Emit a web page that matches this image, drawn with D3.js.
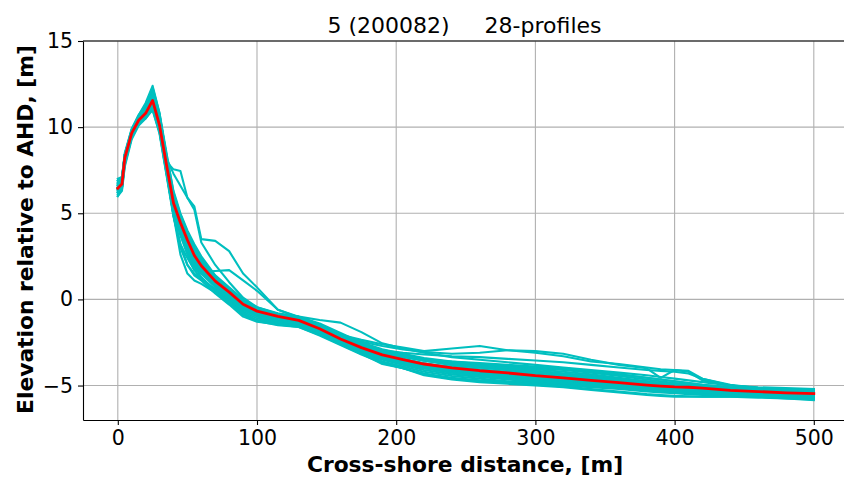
<!DOCTYPE html>
<html><head><meta charset="utf-8">
<script src="https://cdn.jsdelivr.net/npm/d3@7"></script>
<style>body{margin:0;background:#fff;overflow:hidden} text{font-family:"DejaVu Sans",sans-serif}</style>
</head><body><svg id="c" width="844" height="480"></svg>
<script>
const distances = [0,3,5,10,15,20,25,30,35,40,45,50,55,60,70,80,90,100,115,130,145,160,175,190,205,220,240,260,280,300,320,340,360,380,390,400,410,420,440,460,480,500];

const profile01 = [6.3,6.6,8.0,9.5,10.3,10.9,11.8,10.3,7.6,5.2,4.0,3.0,2.2,1.7,0.9,0.3,-0.4,-0.8,-1.05,-1.25,-1.75,-2.4,-2.95,-3.4,-3.7,-3.95,-4.2,-4.35,-4.5,-4.65,-4.75,-4.9,-5.0,-5.15,-5.2,-5.25,-5.3,-5.35,-5.45,-5.5,-5.55,-5.6];
const profile02 = [6.6,6.9,8.3,9.7,10.5,11.0,12.1,10.6,8.0,5.5,4.2,3.2,2.4,1.8,1.0,0.35,-0.35,-0.75,-1.0,-1.2,-1.6,-2.2,-2.75,-3.2,-3.5,-3.8,-4.05,-4.25,-4.4,-4.55,-4.7,-4.85,-5.0,-5.1,-5.15,-5.2,-5.25,-5.3,-5.4,-5.45,-5.5,-5.55];
const profile03 = [6.0,6.4,7.8,9.4,10.2,10.6,11.3,9.9,7.4,4.9,3.0,2.0,1.5,1.2,0.6,0.0,-0.7,-1.1,-1.3,-1.45,-1.9,-2.5,-3.05,-3.5,-3.8,-4.1,-4.35,-4.5,-4.65,-4.8,-4.9,-5.0,-5.1,-5.25,-5.3,-5.35,-5.4,-5.45,-5.5,-5.55,-5.6,-5.7];
const profile04 = [6.8,7.0,8.4,9.8,10.6,11.2,12.3,10.8,8.3,6.0,4.7,3.8,2.9,2.2,1.2,0.5,-0.2,-0.6,-0.9,-1.15,-1.55,-2.1,-2.6,-3.0,-3.3,-3.55,-3.8,-3.95,-4.1,-4.25,-4.4,-4.55,-4.7,-4.85,-4.95,-5.0,-5.05,-5.1,-5.25,-5.35,-5.4,-5.45];
const profile05 = [6.5,6.8,8.2,9.6,10.4,10.7,11.4,10.0,7.7,5.4,4.1,3.1,2.1,1.5,0.8,0.2,-0.5,-0.9,-1.1,-1.3,-1.8,-2.45,-2.95,-3.35,-3.65,-3.9,-4.15,-4.3,-4.45,-4.6,-4.7,-4.8,-4.95,-5.1,-5.15,-5.2,-5.25,-5.3,-5.4,-5.45,-5.5,-5.55];
const profile06 = [6.2,6.5,8.0,9.6,10.3,10.8,11.6,10.2,7.9,5.8,4.6,3.6,2.7,2.1,1.2,0.5,-0.2,-0.6,-0.95,-1.2,-1.65,-2.25,-2.8,-3.25,-3.55,-3.85,-4.1,-4.3,-4.45,-4.6,-4.75,-4.9,-5.05,-5.2,-5.25,-5.3,-5.35,-5.4,-5.5,-5.55,-5.6,-5.65];
const profile07 = [7.0,7.1,8.5,9.9,10.7,11.3,11.9,10.5,8.1,5.6,4.3,3.3,2.5,1.9,1.1,0.45,-0.3,-0.7,-1.0,-1.2,-1.6,-2.2,-2.7,-3.1,-3.35,-3.55,-3.75,-3.9,-4.0,-4.15,-4.3,-4.45,-4.6,-4.75,-4.85,-4.9,-4.95,-5.0,-5.15,-5.25,-5.3,-5.35];
const profile08 = [6.4,6.7,8.1,9.5,10.3,10.7,11.2,9.7,7.3,5.0,3.8,2.8,1.9,1.3,0.5,-0.1,-0.8,-1.2,-1.35,-1.5,-1.95,-2.55,-3.1,-3.6,-3.9,-4.2,-4.45,-4.6,-4.75,-4.85,-4.95,-5.05,-5.15,-5.3,-5.35,-5.4,-5.45,-5.5,-5.55,-5.6,-5.7,-5.75];
const profile09 = [6.7,6.9,8.4,9.7,10.5,11.1,12.0,10.4,8.0,6.1,4.9,3.9,3.0,2.3,1.3,0.6,-0.1,-0.5,-0.85,-1.1,-1.5,-2.05,-2.55,-2.95,-3.2,-3.45,-3.65,-3.8,-3.9,-4.0,-4.1,-4.25,-4.45,-4.65,-4.75,-4.85,-4.95,-5.05,-5.15,-5.25,-5.3,-5.35];
const profile10 = [6.1,6.5,7.9,9.4,10.2,10.5,11.1,9.8,7.5,5.3,3.9,2.7,2.0,1.6,0.8,0.15,-0.55,-0.95,-1.2,-1.4,-1.85,-2.45,-3.0,-3.45,-3.75,-4.0,-4.25,-4.4,-4.55,-4.7,-4.8,-4.95,-5.1,-5.2,-5.25,-5.3,-5.35,-5.4,-5.5,-5.55,-5.6,-5.65];
const profile11 = [6.9,7.1,8.3,9.8,10.6,11.0,11.7,10.6,8.4,6.3,5.0,4.0,3.2,2.5,1.4,0.7,0.0,-0.45,-0.8,-1.0,-1.4,-1.95,-2.5,-2.95,-3.25,-3.55,-3.8,-3.95,-4.1,-4.25,-4.4,-4.55,-4.7,-4.85,-4.9,-4.95,-5.0,-5.05,-5.2,-5.3,-5.35,-5.4];
const profile12 = [6.3,6.6,8.1,9.6,10.4,10.9,11.5,10.1,7.6,5.1,3.7,2.6,1.7,1.2,0.5,-0.15,-0.9,-1.25,-1.4,-1.55,-2.0,-2.6,-3.15,-3.65,-4.0,-4.3,-4.55,-4.7,-4.8,-4.9,-5.0,-5.1,-5.2,-5.35,-5.4,-5.45,-5.5,-5.55,-5.6,-5.65,-5.7,-5.8];
const profile13 = [6.6,6.8,8.2,9.7,10.5,11.2,12.2,10.7,8.2,5.9,4.6,3.7,2.8,2.1,1.15,0.45,-0.25,-0.65,-0.95,-1.15,-1.55,-2.15,-2.7,-3.15,-3.45,-3.7,-3.95,-4.1,-4.25,-4.4,-4.5,-4.65,-4.8,-4.95,-5.0,-5.05,-5.1,-5.15,-5.3,-5.35,-5.45,-5.5];
const profile14 = [6.5,6.7,8.1,9.6,10.4,10.6,11.0,9.6,7.2,4.8,3.2,2.0,1.4,1.1,0.35,-0.3,-1.0,-1.3,-1.45,-1.6,-2.1,-2.65,-3.2,-3.7,-4.0,-4.35,-4.6,-4.75,-4.85,-4.95,-5.05,-5.2,-5.35,-5.5,-5.55,-5.6,-5.62,-5.65,-5.65,-5.65,-5.75,-5.8];
const profile15 = [6.4,6.6,8.2,9.7,10.4,10.8,11.7,10.3,7.9,5.7,4.5,3.5,2.6,2.0,1.1,0.4,-0.3,-0.7,-1.0,-1.25,-1.7,-2.35,-2.85,-3.3,-3.6,-3.85,-4.1,-4.25,-4.4,-4.55,-4.65,-4.8,-4.9,-5.05,-5.1,-5.15,-5.2,-5.25,-5.35,-5.4,-5.5,-5.55];
const profile16 = [6.7,7.0,8.4,9.8,10.6,11.1,11.9,10.5,8.1,5.9,4.7,3.7,2.9,2.3,1.3,0.6,-0.1,-0.55,-0.9,-1.1,-1.5,-2.1,-2.6,-3.05,-3.3,-3.5,-3.7,-3.85,-3.95,-4.05,-4.2,-4.35,-4.55,-4.75,-4.85,-4.95,-5.0,-5.05,-5.2,-5.3,-5.35,-5.4];
const profile17 = [6.5,6.8,8.2,9.7,10.5,11.1,11.8,10.4,8.0,7.55,7.45,5.9,5.4,3.5,3.4,2.8,1.5,0.7,-0.6,-1.05,-1.5,-2.05,-2.55,-2.95,-3.2,-3.45,-3.7,-3.85,-4.0,-4.15,-4.3,-4.45,-4.6,-4.8,-4.85,-4.9,-4.95,-5.0,-5.15,-5.25,-5.3,-5.35];
const profile18 = [6.2,6.5,8.0,9.5,10.2,10.6,11.3,9.9,7.5,4.9,3.2,2.4,1.7,1.6,1.65,1.7,1.1,0.5,-0.6,-1.0,-1.45,-2.0,-2.5,-2.9,-3.15,-3.4,-3.6,-3.75,-3.85,-3.95,-4.05,-4.2,-4.35,-4.55,-4.65,-4.75,-4.85,-4.95,-5.1,-5.2,-5.25,-5.3];
const profile19 = [6.6,6.9,8.3,9.8,10.6,11.2,12.0,10.6,8.2,7.3,6.6,5.9,5.2,3.3,2.0,1.0,0.1,-0.45,-0.85,-1.1,-1.5,-2.05,-2.6,-3.0,-3.3,-3.55,-3.75,-3.9,-4.05,-4.2,-4.35,-4.5,-4.65,-4.8,-4.85,-4.9,-4.95,-5.0,-5.15,-5.25,-5.3,-5.35];
const profile20 = [6.4,6.7,8.2,9.6,10.4,10.9,11.6,10.2,7.8,5.5,4.3,3.3,2.4,1.85,1.0,0.4,-0.3,-0.7,-0.95,-1.15,-1.55,-2.05,-2.35,-2.6,-2.8,-3.0,-2.85,-2.7,-2.95,-3.1,-3.3,-3.6,-3.75,-3.95,-4.05,-4.1,-4.15,-4.6,-5.0,-5.15,-5.2,-5.2];
const profile21 = [6.8,7.0,8.3,9.7,10.6,11.3,12.2,10.7,8.3,5.9,4.6,3.6,2.7,2.1,1.2,0.5,-0.2,-0.6,-0.9,-1.1,-1.5,-2.1,-2.45,-2.7,-2.9,-3.05,-3.15,-3.1,-2.95,-3.0,-3.15,-3.5,-3.8,-4.0,-4.55,-4.1,-4.2,-4.7,-5.0,-5.1,-5.15,-5.2];
const profile22 = [6.3,6.6,8.1,9.6,10.3,10.7,11.4,10.0,7.7,5.5,4.3,3.4,2.5,1.9,1.05,0.4,-0.3,-0.7,-1.0,-1.2,-1.6,-2.15,-2.6,-2.95,-3.1,-3.2,-3.3,-3.35,-3.45,-3.55,-3.65,-3.8,-3.95,-4.1,-4.15,-4.2,-4.3,-4.6,-4.95,-5.15,-5.25,-5.3];
const profile23 = [6.5,6.8,8.3,9.7,10.5,11.0,11.7,10.3,7.9,5.7,4.5,3.5,2.6,2.0,1.1,0.45,-0.25,-0.65,-0.9,-1.0,-1.2,-1.35,-1.9,-2.55,-2.85,-3.1,-3.35,-3.5,-3.65,-3.8,-3.95,-4.1,-4.25,-4.4,-4.5,-4.6,-4.7,-4.8,-5.0,-5.15,-5.2,-5.25];
const profile24 = [6.0,6.3,7.7,9.3,10.1,10.5,11.0,9.7,7.3,4.9,2.6,1.5,1.1,0.9,0.4,-0.2,-0.8,-1.25,-1.5,-1.6,-2.05,-2.6,-3.15,-3.75,-4.0,-4.4,-4.65,-4.8,-4.9,-5.0,-5.1,-5.25,-5.4,-5.55,-5.6,-5.65,-5.65,-5.65,-5.65,-5.7,-5.75,-5.85];
const profile25 = [6.7,6.9,8.4,9.8,10.6,11.0,11.6,10.4,8.0,5.8,4.4,3.3,2.3,1.7,0.85,0.25,-0.45,-0.85,-1.1,-1.3,-1.8,-2.4,-2.9,-3.35,-3.6,-3.85,-4.05,-4.2,-4.35,-4.5,-4.6,-4.75,-4.9,-5.05,-5.1,-5.15,-5.2,-5.25,-5.35,-5.4,-5.5,-5.55];
const profile26 = [6.4,6.7,8.1,9.6,10.4,10.9,11.9,10.2,7.7,5.4,4.2,3.2,2.3,1.8,1.0,0.35,-0.4,-0.8,-1.05,-1.3,-1.75,-2.35,-2.9,-3.3,-3.55,-3.75,-3.9,-4.05,-4.2,-4.35,-4.5,-4.65,-4.8,-4.9,-4.95,-5.0,-5.05,-5.1,-5.25,-5.35,-5.4,-5.45];
const profile27 = [6.9,7.1,8.4,9.9,10.7,11.4,12.4,10.8,8.5,6.2,4.9,3.9,3.0,2.4,1.35,0.65,-0.05,-0.5,-0.85,-1.05,-1.45,-2.0,-2.55,-3.0,-3.3,-3.5,-3.6,-3.7,-3.8,-3.9,-4.0,-4.15,-4.35,-4.55,-4.65,-4.75,-4.85,-4.95,-5.1,-5.2,-5.3,-5.35];
const profile28 = [6.2,6.5,7.9,9.5,10.3,10.6,11.2,9.9,7.5,5.2,3.9,2.9,2.0,1.5,0.7,0.1,-0.6,-1.0,-1.25,-1.4,-1.9,-2.5,-3.0,-3.45,-3.75,-4.0,-4.25,-4.45,-4.6,-4.75,-4.85,-5.0,-5.15,-5.3,-5.35,-5.4,-5.45,-5.5,-5.55,-5.6,-5.65,-5.7];

const meanProfile = [6.45,6.7,8.2,9.65,10.4,10.8,11.55,10.1,7.8,5.6,4.45,3.45,2.55,1.95,1.06,0.42,-0.28,-0.68,-0.98,-1.22,-1.7,-2.3,-2.8,-3.22,-3.5,-3.75,-3.97,-4.14,-4.27,-4.43,-4.55,-4.7,-4.83,-4.97,-5.03,-5.08,-5.1,-5.15,-5.28,-5.35,-5.42,-5.47];

const profiles = [profile01,profile02,profile03,profile04,profile05,profile06,profile07,profile08,profile09,profile10,profile11,profile12,profile13,profile14,profile15,profile16,profile17,profile18,profile19,profile20,profile21,profile22,profile23,profile24,profile25,profile26,profile27,profile28];

const xTicks = [0,100,200,300,400,500];
const yTicks = [-5,0,5,10,15];
const titleText = "5 (200082)     28-profiles";
const xLabel = "Cross-shore distance, [m]";
const yLabel = "Elevation relative to AHD, [m]";

(function(){
const svg = d3.select("#c");
const pL = 83, pT = 41, pB = 420, pR = 848.6;
const x = d3.scaleLinear().domain([-25, 525]).range([pL, pR]);
const y = d3.scaleLinear().domain([-7, 15]).range([pB, pT]);

svg.append("defs").append("clipPath").attr("id","clip")
  .append("rect").attr("x",pL).attr("y",pT).attr("width",pR-pL).attr("height",pB-pT);

const grid = svg.append("g");
grid.selectAll("line.gx").data(xTicks).join("line").attr("class","gx")
  .attr("x1",d=>x(d)).attr("x2",d=>x(d)).attr("y1",pT).attr("y2",pB)
  .attr("stroke","#b0b0b0").attr("stroke-width",1.1);
grid.selectAll("line.gy").data(yTicks).join("line").attr("class","gy")
  .attr("y1",d=>y(d)).attr("y2",d=>y(d)).attr("x1",pL).attr("x2",pR)
  .attr("stroke","#b0b0b0").attr("stroke-width",1.1);

const line = d3.line().defined(d=>d[1]!=null && !isNaN(d[1])).x(d=>x(d[0])).y(d=>y(d[1]));
const plot = svg.append("g").attr("clip-path","url(#clip)");
plot.selectAll("path.p").data(profiles).join("path")
  .attr("class","p")
  .attr("d", p => line(distances.map((d,i)=>[d,p[i]])))
  .attr("fill","none").attr("stroke","#00bfbf").attr("stroke-width",2.1)
  .attr("stroke-linejoin","round").attr("stroke-linecap","square");
plot.append("path")
  .attr("d", line(distances.map((d,i)=>[d,meanProfile[i]])))
  .attr("fill","none").attr("stroke","#ff0000").attr("stroke-width",2.8)
  .attr("stroke-linejoin","round").attr("stroke-linecap","square");

const xa = svg.append("g").attr("transform",`translate(0,${pB})`)
  .call(d3.axisBottom(x).tickValues(xTicks).tickSize(5).tickPadding(5).tickSizeOuter(0));
const ya = svg.append("g").attr("transform",`translate(${pL},0)`)
  .call(d3.axisLeft(y).tickValues(yTicks).tickSize(5).tickPadding(5).tickSizeOuter(0));
[xa,ya].forEach(a=>{
  a.select(".domain").attr("stroke","#000").attr("stroke-width",1.1);
  a.selectAll(".tick line").attr("stroke","#000").attr("stroke-width",1.1);
  a.selectAll(".tick text").attr("font-size",20.5).attr("font-family","DejaVu Sans").attr("fill","#000");
});
svg.append("line").attr("x1",pL).attr("x2",pR).attr("y1",pT).attr("y2",pT)
  .attr("stroke","#000").attr("stroke-width",1.1);

svg.append("text").attr("x",464.5).attr("y",33).attr("text-anchor","middle")
  .attr("font-size",22).style("white-space","pre").text(titleText);
svg.append("text").attr("x",465).attr("y",472).attr("text-anchor","middle")
  .attr("font-size",21.8).attr("font-weight","bold").text(xLabel);
svg.append("text").attr("transform","translate(33.3,229.5) rotate(-90)").attr("text-anchor","middle")
  .attr("font-size",21.8).attr("font-weight","bold").text(yLabel);
})();
</script></body></html>
